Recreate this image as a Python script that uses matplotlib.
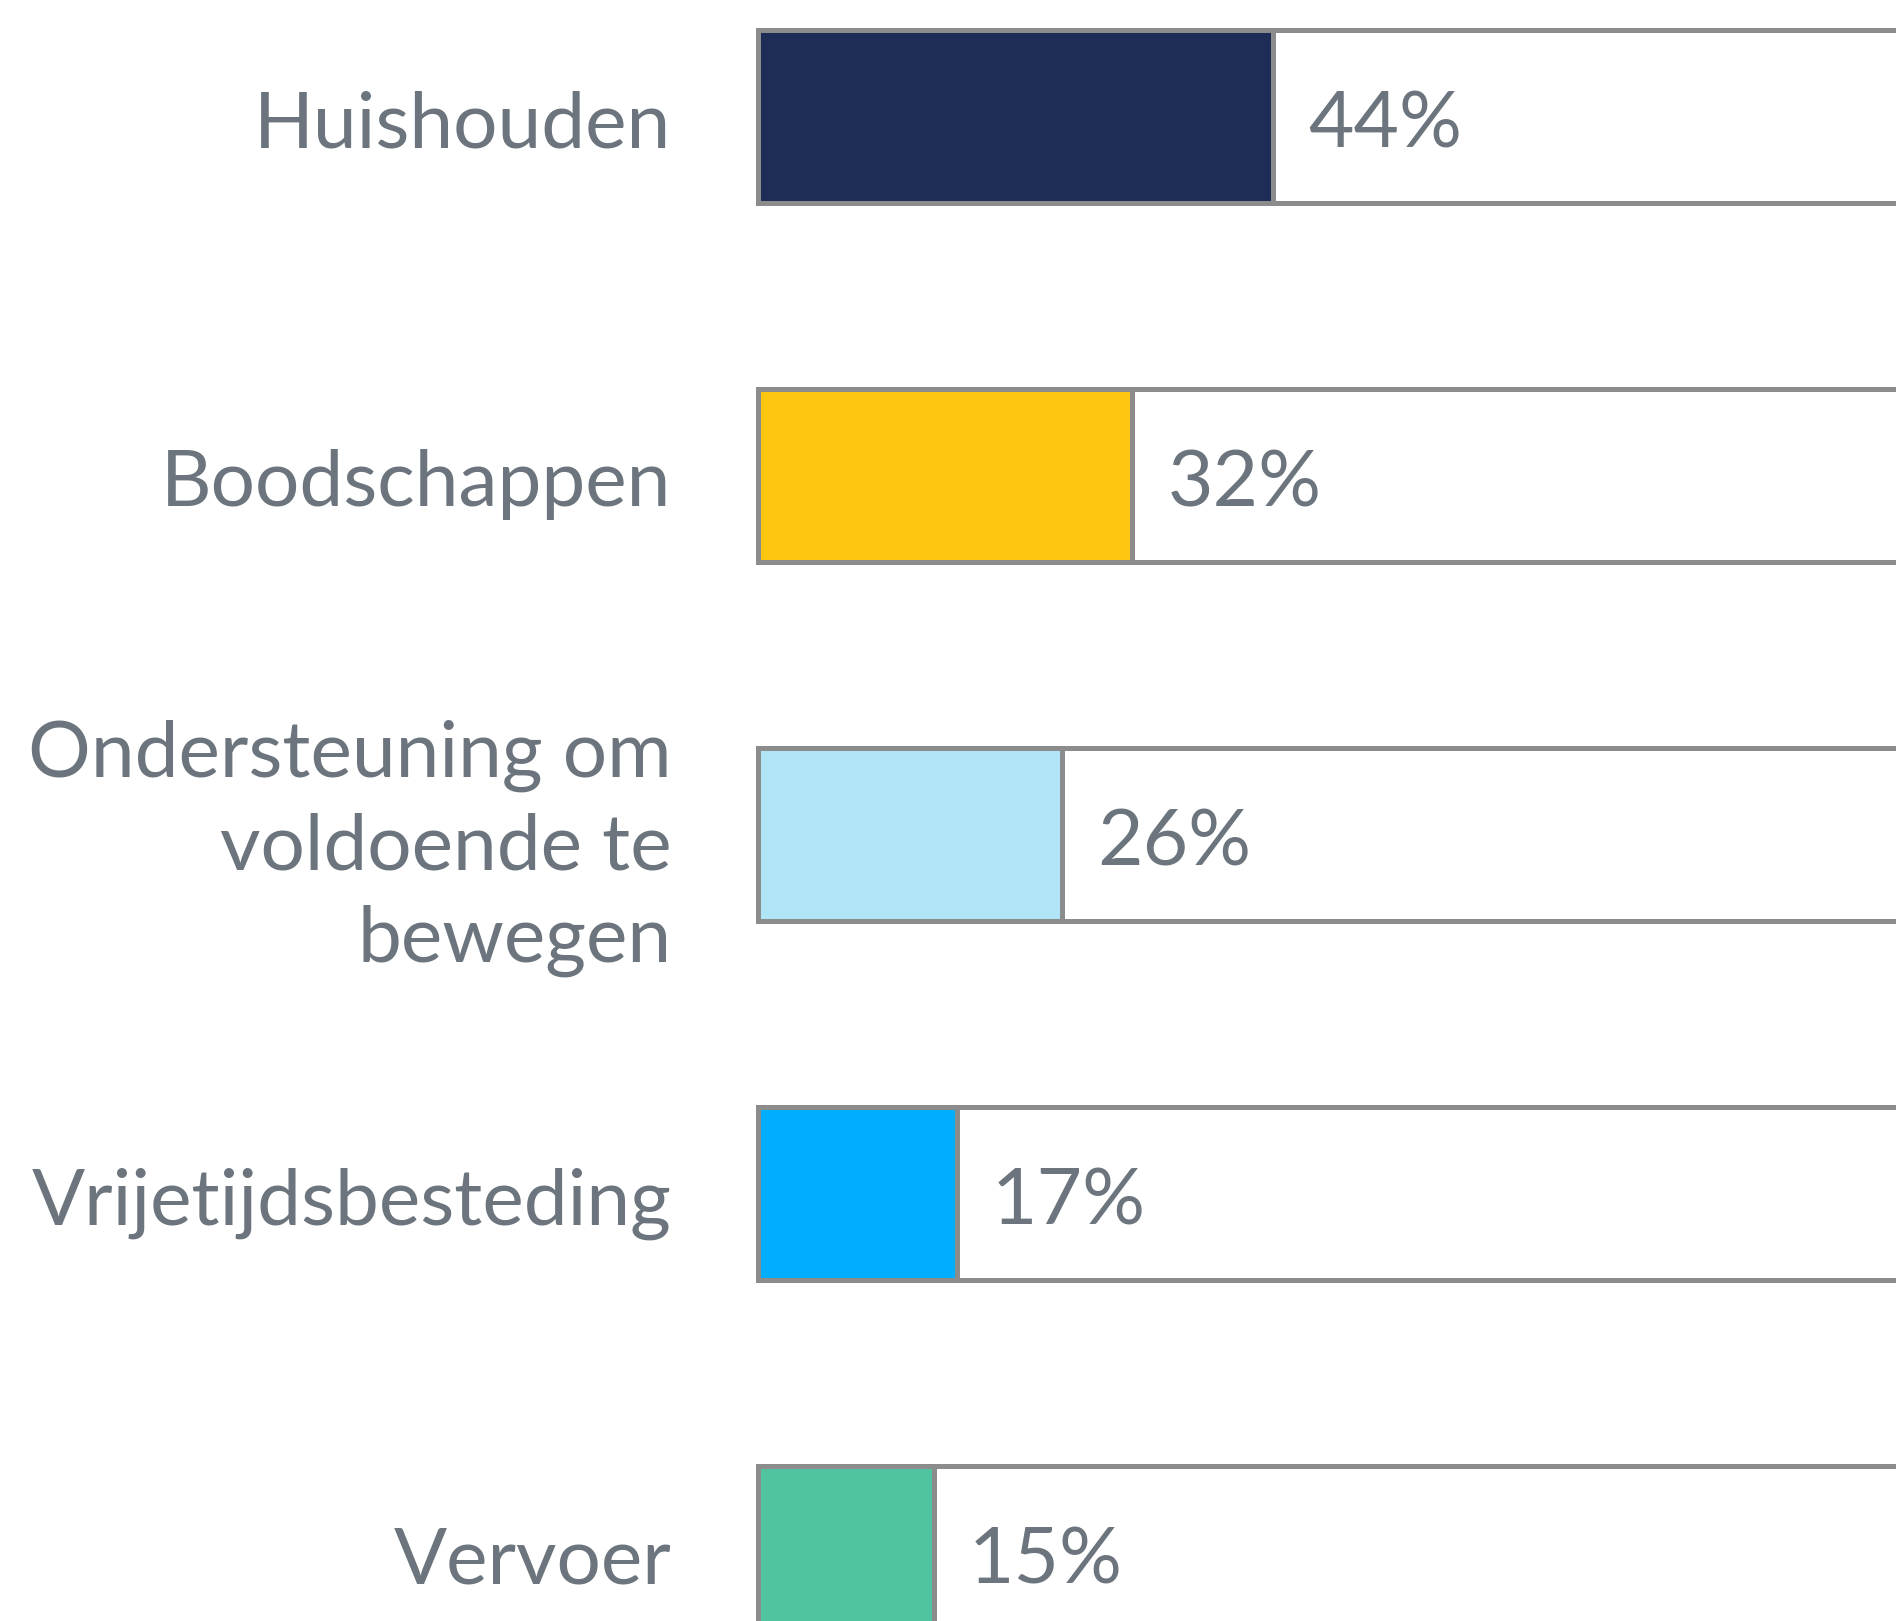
import matplotlib.pyplot as plt

categories = ['Huishouden', 'Boodschappen', 'Ondersteuning om\nvoldoende te\nbewegen',
              'Vrijetijdsbesteding', 'Vervoer']
values = [44, 32, 26, 17, 15]
colors = ['#1d2d55', '#fdc611', '#b0e5f8', '#00aeff', '#50c3a0']

text_color = '#6c757d'
edge_color = '#8c8c8c'

plt.rcParams['font.family'] = ['Lato', 'DejaVu Sans']

fig = plt.figure(figsize=(18.96, 16.21), dpi=100)
# axes in figure fraction: 0% at x=758px, 100% at x=1928px (cropped on the right)
ax = fig.add_axes([758 / 1896, 0, 1170 / 1896, 1])
ax.set_xlim(0, 100)
pitch = 359  # px between bars
ax.set_ylim((1621 - 116.5) / pitch, -116.5 / pitch)
ax.axis('off')

pos = list(range(len(categories)))
bar_h = 173 / pitch
ax.barh(pos, [100] * len(pos), height=bar_h, color='white',
        edgecolor=edge_color, linewidth=3.6, clip_on=False)
ax.barh(pos, values, height=bar_h, color=colors,
        edgecolor=edge_color, linewidth=3.6, clip_on=False)

off = 31 / pitch
for i, (cat, v) in enumerate(zip(categories, values)):
    n = cat.count('\n')
    # baseline of last line; lines are ~96px apart
    ax.text(-7.4, i + off + n * 96 / 2 / pitch, cat, ha='right', va='baseline',
            fontsize=56.5, color=text_color, linespacing=1.36)
    ax.text(v + 3.0, i + off, f'{v}%', ha='left', va='baseline',
            fontsize=56.5, color=text_color)

fig.savefig('out.png', dpi=100)
